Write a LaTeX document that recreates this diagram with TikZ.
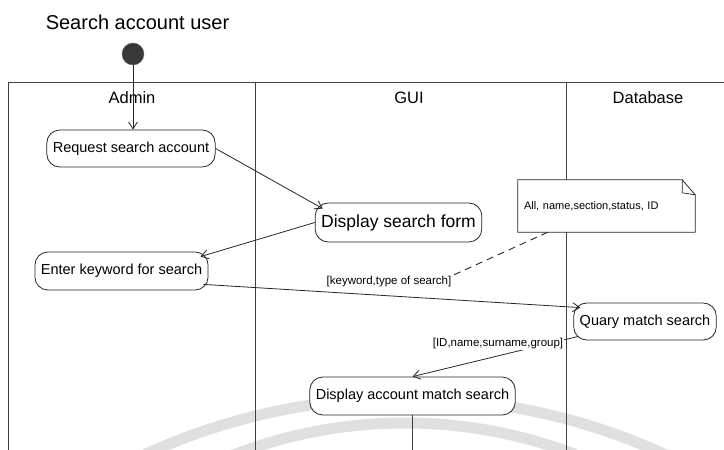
\documentclass[tikz,border=0pt]{standalone}
\usepackage{fontspec}
\setmainfont{Liberation Sans}
\usetikzlibrary{arrows.meta,calc}
\pgfdeclarelayer{bg}
\pgfdeclarelayer{mid}
\pgfsetlayers{bg,mid,main}
\begin{document}
\begin{tikzpicture}[x=1pt,y=-1pt,
  act/.style={draw=black!85, line width=0.8pt, fill=white, rounded corners=13pt, inner xsep=6pt, inner ysep=0pt, font=\fontsize{14.5}{16}\selectfont, minimum height=37pt},
  lane/.style={draw=black!75, line width=0.9pt},
  arr/.style={draw=black!85, line width=0.8pt, -{Straight Barb[length=7pt,width=9pt]}},
  lbl/.style={font=\fontsize{11.5}{13}\selectfont, inner sep=1pt, fill=white},
  hdr/.style={font=\fontsize{16.5}{18}\selectfont},
  wm/.style={draw=black!12, line width=11pt}
]
\useasboundingbox (0,0) rectangle (724,450);

% background: watermark and swimlanes
\begin{pgfonlayer}{bg}
  \begin{scope}
    \clip (0,0) rectangle (724,450);
    \draw[wm] (405,1023) circle[radius=625];
    \draw[wm] (405,897) circle[radius=474];
  \end{scope}
  \draw[lane] (8,450) -- (8,82) -- (724,82);
  \draw[lane] (255,82) -- (255,450);
  \draw[lane] (566,82) -- (566,450);
\end{pgfonlayer}

% title and start
\node[font=\fontsize{20}{22}\selectfont] (title) at (137.5,22) {Search account user};
\node[circle, fill=black!78, draw=black!60, minimum size=22pt, inner sep=0pt] (start) at (133,54) {};

% lane headers
\node[hdr] (hadmin) at (132,98) {Admin};
\node[hdr] (hgui) at (409,98) {GUI};
\node[hdr] (hdb) at (648,98) {Database};

% activities
\node[act] (req) at (131,148.5) {Request search account};
\node[act, font=\fontsize{17.5}{19}\selectfont, minimum height=39pt] (dsf) at (398.5,222.5) {Display search form};
\node[act, minimum height=38pt] (ent) at (121.5,271) {Enter keyword for search};
\node[act] (qry) at (645,321.5) {Quary match search};
\node[act, minimum height=38pt] (dam) at (412.5,396) {Display account match search};
\coordinate (damend) at (412.5,450);

% note
\node[font=\fontsize{11}{13}\selectfont, minimum width=177pt, minimum height=52pt, inner xsep=6pt, text width=165pt, align=left] (note) at (606.5,206) {All, name,section,status, ID};
\begin{pgfonlayer}{mid}
  \draw[black!85, line width=0.8pt, fill=white, line join=round]
    (note.south west) -- (note.north west) -- ([xshift=-13pt]note.north east)
    -- ([yshift=-15pt]note.north east) -- (note.south east) -- cycle;
  \draw[black!85, line width=0.7pt]
    ([xshift=-13pt]note.north east) -- ([xshift=-13pt,yshift=-13pt]note.north east)
    -- ([yshift=-15pt]note.north east);
\end{pgfonlayer}

% connectors
\draw[arr] (start.south) -- (start |- req.north);
\draw[arr] (req.east) -- ([shift={(8pt,-6pt)}]dsf.north west);
\draw[arr] (dsf.west) -- ([shift={(-8pt,-5pt)}]ent.north east);
\draw[arr] ([shift={(-5pt,6pt)}]ent.south east) -- ([shift={(7pt,-5pt)}]qry.north west);
\draw[arr] ([shift={(5pt,4pt)}]qry.south west) -- (dam.north);
\draw[lane] (dam.south) -- (damend);

% guard labels
\node[lbl] (kwl) at (389,282) {[keyword,type of search]};
\node[lbl] (idl) at (498,344) {[ID,name,surname,group]};

% note anchor line
\draw[black!85, line width=0.9pt, dash pattern=on 7pt off 5pt] ([xshift=30pt]note.south west) -- (kwl.north east);
\end{tikzpicture}
\end{document}
